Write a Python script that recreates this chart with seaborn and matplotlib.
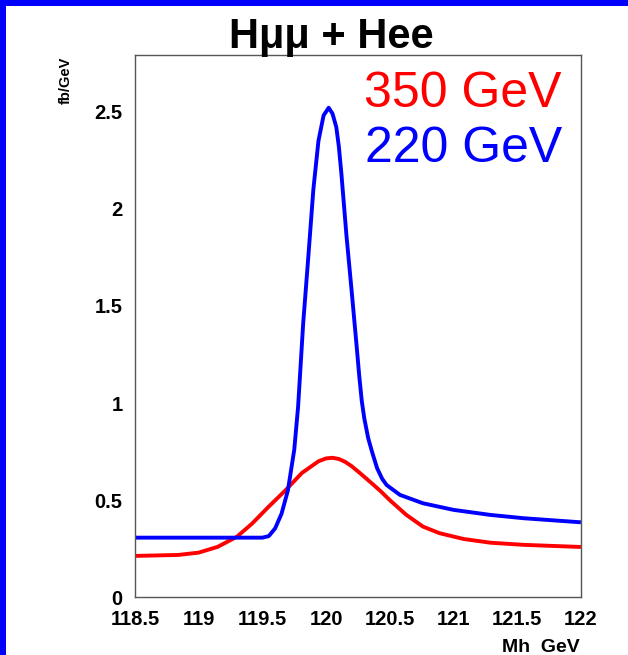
import matplotlib
matplotlib.use("Agg")
import matplotlib.pyplot as plt
import seaborn as sns
import pandas as pd
from matplotlib.patches import Rectangle
from matplotlib.ticker import MultipleLocator, FuncFormatter

# ---- data ----
mass_220 = [118.5, 119.5, 119.55, 119.6, 119.65, 119.7, 119.75, 119.78, 119.82,
            119.86, 119.90, 119.94, 119.98, 120.02, 120.05, 120.08, 120.10, 120.12,
            120.16, 120.20, 120.24, 120.26, 120.28, 120.30, 120.33, 120.36, 120.40,
            120.44, 120.475, 120.58, 120.76, 121.0, 121.29, 121.55, 122.0]
xsec_220 = [0.307, 0.307, 0.315, 0.355, 0.43, 0.55, 0.76, 0.98, 1.41,
            1.75, 2.10, 2.35, 2.48, 2.52, 2.49, 2.42, 2.32, 2.18,
            1.86, 1.58, 1.29, 1.14, 1.01, 0.92, 0.82, 0.75, 0.665,
            0.61, 0.578, 0.527, 0.484, 0.45, 0.424, 0.407, 0.386]

mass_350 = [118.5, 118.84, 119.0, 119.15, 119.30, 119.42, 119.55, 119.68, 119.81,
            119.94, 120.0, 120.05, 120.10, 120.15, 120.20, 120.25, 120.30, 120.37,
            120.43, 120.5, 120.63, 120.76, 120.89, 121.08, 121.29, 121.55, 122.0]
xsec_350 = [0.213, 0.218, 0.23, 0.26, 0.312, 0.38, 0.467, 0.55, 0.64,
            0.70, 0.715, 0.718, 0.712, 0.697, 0.675, 0.648, 0.62, 0.58,
            0.545, 0.50, 0.424, 0.364, 0.33, 0.30, 0.281, 0.27, 0.259]

series_labels = ["350 GeV", "220 GeV"]
series_colors = ["#ff0000", "#0000ff"]
title_text = "H\u03bc\u03bc + Hee"
x_label = "Mh  GeV"
y_label = "fb/GeV"

df = pd.concat([
    pd.DataFrame({"mass": mass_350, "xsec": xsec_350, "energy": series_labels[0]}),
    pd.DataFrame({"mass": mass_220, "xsec": xsec_220, "energy": series_labels[1]}),
])

sns.set_theme(style="white")
plt.rcParams["font.family"] = ["Liberation Sans", "DejaVu Sans"]
plt.rcParams["lines.solid_joinstyle"] = "round"
plt.rcParams["lines.solid_capstyle"] = "butt"

fig = plt.figure(figsize=(6.28, 6.55), dpi=100)
fig.patch.set_facecolor("white")
ax = fig.add_axes([0.215, 0.0881, 0.925 - 0.215, 0.9156 - 0.0881])

sns.lineplot(data=df, x="mass", y="xsec", hue="energy", hue_order=series_labels,
             palette=series_colors, estimator=None, sort=False, linewidth=2.8,
             legend=False, ax=ax)
for ln in ax.get_lines():
    ln.set_solid_joinstyle("round")

ax.set_xlim(118.5, 122.0)
ax.set_ylim(0, 2.79)
ax.xaxis.set_major_locator(MultipleLocator(0.5))
ax.xaxis.set_minor_locator(MultipleLocator(0.1))
ax.yaxis.set_major_locator(MultipleLocator(0.5))
ax.yaxis.set_minor_locator(MultipleLocator(0.1))


def fmt(v, _):
    return f"{v:g}"


ax.xaxis.set_major_formatter(FuncFormatter(fmt))
ax.yaxis.set_major_formatter(FuncFormatter(fmt))

ax.tick_params(which="both", direction="in", top=False, right=False,
               color="#333333", width=1.0)
ax.tick_params(which="major", length=8)
ax.tick_params(which="minor", length=4)
ax.tick_params(axis="x", which="major", pad=9, labelsize=14.5)
ax.tick_params(axis="y", which="major", pad=9, labelsize=14.5)
for lab in ax.get_xticklabels() + ax.get_yticklabels():
    lab.set_fontweight("bold")
    lab.set_color("black")
for sp in ax.spines.values():
    sp.set_color("#555555")
    sp.set_linewidth(1.0)
ax.set_xlabel("")
ax.set_ylabel("")

# axis titles (ROOT style)
fig.text(580 / 628, 1 - 652 / 655, x_label, ha="right", va="baseline",
         fontsize=14, fontweight="bold", color="black")
fig.text(66 / 628, 1 - 57 / 655, y_label, ha="center", va="top", rotation=90,
         fontsize=10.5, fontweight="bold", color="black")

# title
fig.text(331 / 628, 1 - 48 / 655, title_text, ha="center", va="baseline",
         fontsize=30, fontweight="bold", color="black")

# series labels
fig.text(562 / 628, 1 - 106.7 / 655, series_labels[0], ha="right", va="baseline",
         fontsize=36, color=series_colors[0])
fig.text(562 / 628, 1 - 161.7 / 655, series_labels[1], ha="right", va="baseline",
         fontsize=36, color=series_colors[1])

# blue frame on top and left
fig.patches.append(Rectangle((0, 1 - 6 / 655), 1, 6 / 655, transform=fig.transFigure,
                             facecolor="#0000ff", edgecolor="none", zorder=10))
fig.patches.append(Rectangle((0, 0), 6 / 628, 1, transform=fig.transFigure,
                             facecolor="#0000ff", edgecolor="none", zorder=10))

fig.savefig("out.png", dpi=100)
